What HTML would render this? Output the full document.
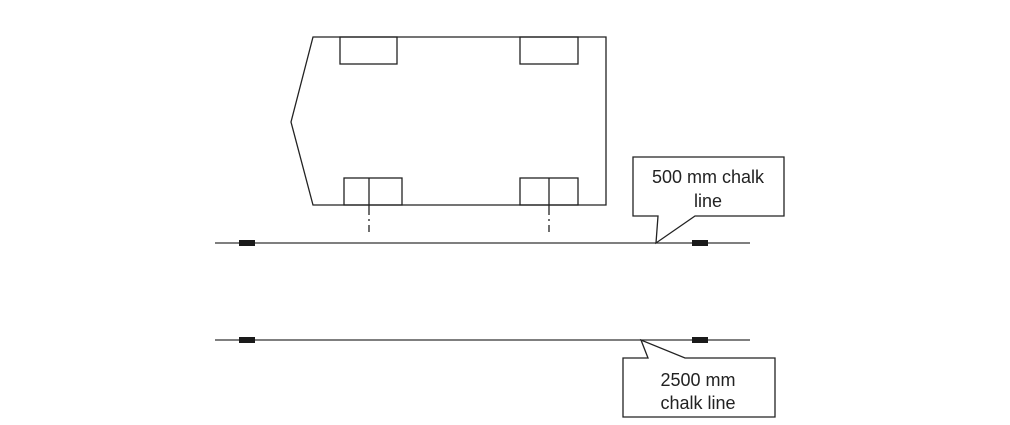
<!DOCTYPE html>
<html><head><style>
html,body{margin:0;padding:0;background:#fff;}
svg{display:block}
text{font-family:"Liberation Sans",Arial,sans-serif;font-size:18px;fill:#222}
</style></head><body>
<svg width="1010" height="425" viewBox="0 0 1010 425" xmlns="http://www.w3.org/2000/svg">
<g fill="none" stroke="#222" stroke-width="1.3">
<polygon points="313,37 606,37 606,205 313,205 291,122" fill="#fff"/>
<rect x="340" y="37" width="57" height="27"/>
<rect x="520" y="37" width="58" height="27"/>
<rect x="344" y="178" width="58" height="27"/>
<rect x="520" y="178" width="58" height="27"/>
<line x1="369" y1="178" x2="369" y2="205"/>
<line x1="549" y1="178" x2="549" y2="205"/>
<line x1="369" y1="205" x2="369" y2="232" stroke-dasharray="10,4,2,4"/>
<line x1="549" y1="205" x2="549" y2="232" stroke-dasharray="10,4,2,4"/>
<line x1="215" y1="243" x2="750" y2="243" stroke="#333" stroke-width="1.2"/>
<line x1="215" y1="340" x2="750" y2="340" stroke="#333" stroke-width="1.2"/>
<polygon points="633,157 784,157 784,216 695,216 656,243 658,216 633,216" fill="#fff"/>
<polygon points="623,358 648,358 641,340 685,358 775,358 775,417 623,417" fill="#fff"/>
</g>
<g fill="#1a1a1a">
<rect x="239" y="240" width="16" height="6"/>
<rect x="692" y="240" width="16" height="6"/>
<rect x="239" y="337" width="16" height="6"/>
<rect x="692" y="337" width="16" height="6"/>
</g>
<text x="708" y="183" text-anchor="middle">500 mm chalk</text>
<text x="708" y="207" text-anchor="middle">line</text>
<text x="698" y="386" text-anchor="middle">2500 mm</text>
<text x="698" y="409" text-anchor="middle">chalk line</text>
</svg>
</body></html>
